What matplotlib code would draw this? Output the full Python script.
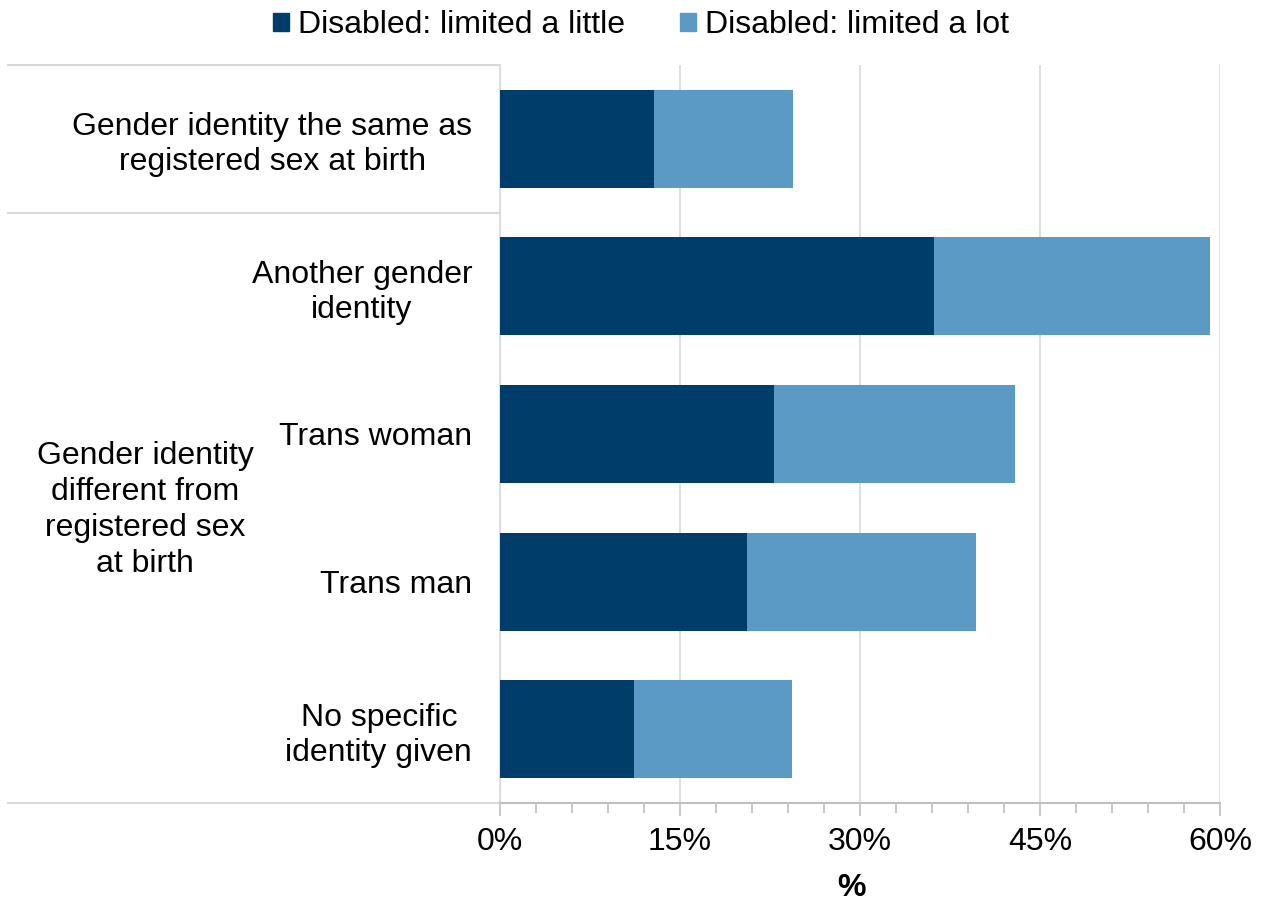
import matplotlib
matplotlib.use("Agg")
import matplotlib.pyplot as plt
from matplotlib.transforms import blended_transform_factory
from matplotlib.patches import Rectangle

plt.rcParams['font.family'] = ['Liberation Sans', 'DejaVu Sans']

categories = ["Gender identity the same as\nregistered sex at birth",
              "Another gender\nidentity",
              "Trans woman",
              "Trans man",
              "No specific\nidentity given"]
limited_little = [12.8, 36.2, 22.8, 20.6, 11.2]
limited_lot = [11.6, 23.0, 20.1, 19.1, 13.1]
series_names = ["Disabled: limited a little", "Disabled: limited a lot"]
group_label = "Gender identity\ndifferent from\nregistered sex\nat birth"
xticks = [0, 15, 30, 45, 60]
xtick_labels = ["0%", "15%", "30%", "45%", "60%"]

dark = "#003D6A"
light = "#5C9AC6"
grid_c = "#D9D9D9"
FS = 23

W, H = 1261, 901
fig = plt.figure(figsize=(W / 100, H / 100), dpi=100)
ax = fig.add_axes([500 / W, (H - 803) / H, 720 / W, (803 - 65) / H])

y = list(range(len(categories)))
ax.barh(y, limited_little, height=0.665, color=dark, zorder=3)
ax.barh(y, limited_lot, left=limited_little, height=0.665, color=light, zorder=3)

ax.set_xlim(0, 60)
ax.set_ylim(len(categories) - 0.5, -0.5)
ax.set_xticks(xticks)
ax.set_xticklabels(xtick_labels, fontsize=FS)
ax.set_xticks([v for v in range(0, 61, 3) if v % 15], minor=True)
ax.tick_params(axis='x', which='major', length=9, width=1.2, color="#BFBFBF", pad=8)
ax.tick_params(axis='x', which='minor', length=7, width=1.2, color="#BFBFBF")
ax.set_yticks(y)
ax.set_yticklabels(categories, fontsize=FS, linespacing=1.22, multialignment="center")
ax.tick_params(axis='y', length=0, pad=20)
ax.grid(axis='x', color=grid_c, linewidth=1.2, zorder=0)
for s in ["top", "right"]:
    ax.spines[s].set_visible(False)
ax.spines["left"].set_color(grid_c)
ax.spines["left"].set_linewidth(1.2)
ax.spines["bottom"].set_color("#BFBFBF")
ax.spines["bottom"].set_linewidth(1.5)
ax.set_xlabel("%", fontsize=FS, fontweight="bold")
ax.xaxis.set_label_coords((852 - 500) / 720, -(888 - 803) / (803 - 65))
ax.xaxis.label.set_va("center")

# group separator lines
tr = blended_transform_factory(fig.transFigure, ax.transData)
for yy in [-0.5, 0.5, len(categories) - 0.5]:
    ax.plot([8 / W, 500 / W], [yy, yy], transform=tr, color=grid_c, lw=1.5,
            clip_on=False, zorder=1)

fig.text(145 / W, 1 - 510 / H, group_label, fontsize=FS, ha="center", va="center",
         linespacing=1.27)

# legend
handles = [Rectangle((0, 0), 1, 1, color=dark), Rectangle((0, 0), 1, 1, color=light)]
fig.legend(handles, series_names, loc="center", bbox_to_anchor=(641 / W, 1 - 25 / H),
           ncol=2, frameon=False, fontsize=FS, handlelength=0.5, handleheight=0.5,
           handletextpad=0.28, columnspacing=1.7, borderpad=0)

fig.savefig("out.png", dpi=100)
